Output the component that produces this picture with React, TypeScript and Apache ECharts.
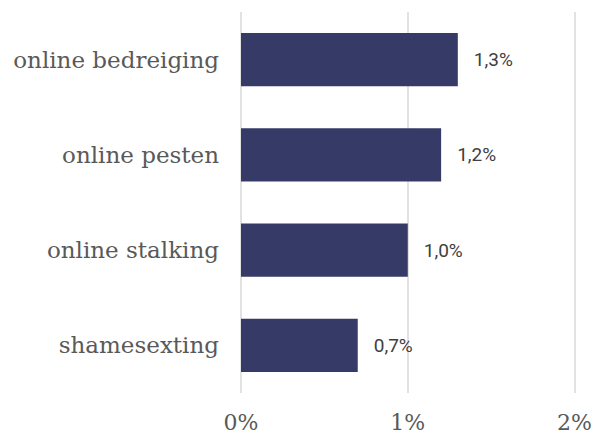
import React, { useEffect, useRef } from "react";
import * as echarts from "echarts";

const categories = ["online bedreiging", "online pesten", "online stalking", "shamesexting"];
const values = [1.3, 1.2, 1.0, 0.7];
const tickValues = [0, 1, 2];

export default function App() {
  const ref = useRef<HTMLDivElement>(null);
  useEffect(() => {
    if (!ref.current) return;
    const chart = echarts.init(ref.current, null, { renderer: "svg" });
    chart.setOption({
      animation: false,
      grid: { left: 241, right: 19, top: 12, bottom: 44, containLabel: false },
      xAxis: {
        type: "value",
        min: tickValues[0],
        max: tickValues[tickValues.length - 1],
        interval: 1,
        axisLine: { show: false },
        axisTick: { show: false },
        splitLine: { show: true, lineStyle: { color: "#d9d9d9", width: 1.5 } },
        axisLabel: {
          formatter: (v: number) => v + "%",
          fontFamily: "DejaVu Serif",
          fontSize: 22,
          color: "#595959",
          margin: 18,
        },
      },
      yAxis: {
        type: "category",
        data: categories,
        inverse: true,
        axisLine: { show: false },
        axisTick: { show: false },
        axisLabel: {
          fontFamily: "DejaVu Serif",
          fontSize: 23,
          color: "#595959",
          margin: 22,
        },
      },
      series: [
        {
          type: "bar",
          data: values,
          barCategoryGap: "44%",
          itemStyle: { color: "#363A66" },
          label: {
            show: true,
            position: "right",
            distance: 16,
            formatter: (p: any) => p.value.toFixed(1).replace(".", ",") + "%",
            fontFamily: "Roboto",
            fontSize: 19,
            color: "#404040",
          },
        },
      ],
    });
    return () => chart.dispose();
  }, []);
  return <div ref={ref} style={{ width: 595, height: 437, position: "absolute", left: 0, top: 0 }} />;
}
